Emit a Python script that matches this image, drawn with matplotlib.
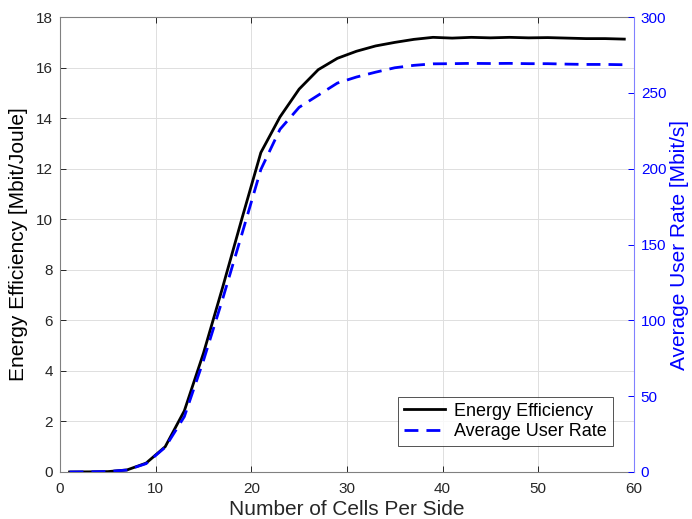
import matplotlib
matplotlib.use("Agg")
import matplotlib.pyplot as plt

plt.rcParams['font.family'] = ['Liberation Sans', 'DejaVu Sans']

cells = [1, 3, 5, 7, 9, 11, 13, 15, 17, 19, 21, 23, 25, 27, 29, 31, 33, 35, 37, 39,
         41, 43, 45, 47, 49, 51, 53, 55, 57, 59]
energy_eff = [0.0, 0.005, 0.015, 0.08, 0.35, 1.0, 2.42, 4.7, 7.3, 10.0, 12.64, 14.05, 15.15, 15.92,
              16.37, 16.65, 16.86, 17.0, 17.12, 17.2, 17.17, 17.2, 17.18, 17.2, 17.18, 17.19,
              17.17, 17.15, 17.15, 17.13]
user_rate = [0.0, 0.1, 0.3, 1.3, 5.5, 16.3, 36.5, 73.5, 114.0, 156.5, 199.5, 226.0, 240.5, 248.5,
             256.5, 260.5, 263.7, 266.6, 268.2, 269.2, 269.3, 269.5, 269.4, 269.5, 269.3, 269.3,
             269.0, 268.8, 268.8, 268.6]

fig = plt.figure(figsize=(6.92, 5.19), dpi=100)
ax = fig.add_axes([0.0867, 0.0906, 0.8293, 0.8764])
ax2 = ax.twinx()

gray = '#262626'
l1, = ax.plot(cells, energy_eff, color='black', lw=2, label='Energy Efficiency', zorder=3)
l2, = ax2.plot(cells, user_rate, color='#0000ff', lw=2, ls=(0, (5, 2.9)), label='Average User Rate')

ax.set_xlim(0, 60)
ax.set_ylim(0, 18)
ax2.set_ylim(0, 300)
ax.set_xticks(range(0, 61, 10))
ax.set_yticks(range(0, 19, 2))
ax2.set_yticks(range(0, 301, 50))

ax.grid(True, color='#dedede', lw=0.7)
ax.set_axisbelow(True)

for a in (ax, ax2):
    a.tick_params(direction='in', length=4, width=0.7, labelsize=11)
ax.tick_params(colors=gray, top=True, labelcolor=gray)
ax.tick_params(axis='x', pad=7)
ax.tick_params(axis='y', pad=5)
ax2.tick_params(axis='y', colors='#0000ff', labelcolor='#0000ff', pad=5)

for s in ('left', 'bottom', 'top'):
    ax.spines[s].set_color('#808080')
    ax.spines[s].set_linewidth(0.8)
for s in ('left', 'bottom', 'top'):
    ax2.spines[s].set_visible(False)
ax2.spines['right'].set_color('#8080ff')
ax2.spines['right'].set_linewidth(0.8)
ax.spines['right'].set_visible(False)

ax.set_xlabel('Number of Cells Per Side', fontsize=15, color=gray, labelpad=3)
ax.set_ylabel('Energy Efficiency [Mbit/Joule]', fontsize=15, color='black', labelpad=6)
ax2.set_ylabel('Average User Rate [Mbit/s]', fontsize=15, color='#0000ff', labelpad=3)

leg = ax2.legend(handles=[l1, l2], loc='lower right', bbox_to_anchor=(0.963, 0.058),
                 fontsize=13, frameon=True, fancybox=False, borderpad=0.3,
                 handlelength=2.3, handletextpad=0.5, labelspacing=0.2, borderaxespad=0)
leg.get_frame().set_edgecolor('#262626')
leg.get_frame().set_linewidth(0.7)

fig.savefig('out.png', dpi=100)
